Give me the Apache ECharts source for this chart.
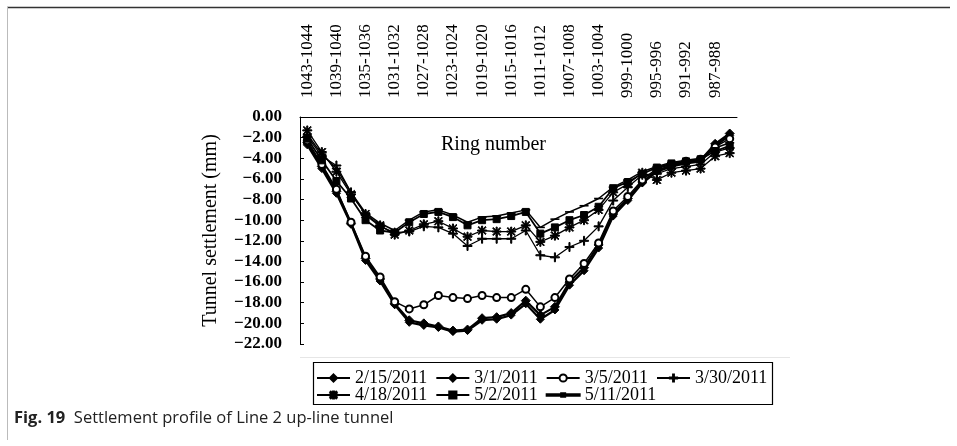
<!DOCTYPE html>
<html>
<head>
<meta charset="utf-8">
<script src="https://cdn.jsdelivr.net/npm/echarts@6/dist/echarts.min.js"></script>
<style>
  html, body { margin: 0; padding: 0; background: #fff; }
  #main { width: 957px; height: 446px; }
</style>
</head>
<body>
<div id="main"></div>
<script>
// ring pairs, every second one is labelled
var rings = ['1043-1044', '1041-1042', '1039-1040', '1037-1038', '1035-1036', '1033-1034',
  '1031-1032', '1029-1030', '1027-1028', '1025-1026', '1023-1024', '1021-1022',
  '1019-1020', '1017-1018', '1015-1016', '1013-1014', '1011-1012', '1009-1010',
  '1007-1008', '1005-1006', '1003-1004', '1001-1002', '999-1000', '997-998',
  '995-996', '993-994', '991-992', '989-990', '987-988', '985-986'];

// settlement (mm)
var d0215 = [-2.5, -4.8, -7.2, -10.3, -13.7, -15.7, -18.1, -19.7, -20.0, -20.3, -20.7, -20.6, -19.5, -19.4, -19.0,
  -17.8, -19.2, -18.4, -16.0, -14.6, -12.4, -9.4, -7.9, -6.3, -5.2, -4.7, -4.4, -4.2, -2.6, -1.6];
var d0301 = [-2.7, -5.0, -7.4, -10.4, -13.9, -15.9, -18.2, -19.9, -20.2, -20.4, -20.8, -20.7, -19.7, -19.6, -19.2,
  -18.1, -19.6, -18.7, -16.3, -14.9, -12.7, -9.6, -8.1, -6.4, -5.3, -4.8, -4.5, -4.3, -2.8, -1.8];
var d0305 = [-2.3, -4.6, -7.0, -10.2, -13.5, -15.5, -17.9, -18.6, -18.2, -17.3, -17.5, -17.6, -17.3, -17.5, -17.5,
  -16.7, -18.4, -17.5, -15.7, -14.2, -12.2, -9.1, -7.7, -6.1, -5.0, -4.6, -4.3, -4.1, -2.9, -2.1];
var d0330 = [-1.9, -3.8, -4.7, -7.3, -9.5, -10.6, -11.2, -11.1, -10.6, -10.7, -11.3, -12.5, -11.8, -11.8, -11.8,
  -11.0, -13.4, -13.6, -12.6, -12.0, -10.6, -8.1, -6.8, -5.6, -5.5, -5.0, -4.8, -4.6, -3.4, -3.0];
var d0418 = [-1.3, -3.4, -5.3, -7.5, -9.4, -10.5, -11.4, -11.0, -10.4, -10.1, -10.8, -11.6, -11.0, -11.1, -11.1,
  -10.5, -12.1, -11.5, -10.7, -10.0, -9.0, -7.3, -6.5, -5.4, -6.1, -5.4, -5.2, -5.0, -3.8, -3.5];
var d0502 = [-2.1, -4.2, -6.2, -7.9, -10.0, -11.0, -11.2, -10.2, -9.4, -9.2, -9.7, -10.5, -10.0, -9.9, -9.6,
  -9.2, -11.3, -10.7, -10.0, -9.5, -8.7, -6.9, -6.3, -5.5, -4.9, -4.5, -4.3, -4.1, -3.3, -2.8];
var d0511 = [-1.7, -3.6, -5.0, -7.3, -9.3, -10.3, -11.0, -10.0, -9.2, -9.0, -9.5, -10.2, -9.7, -9.6, -9.3,
  -9.0, -10.7, -9.9, -9.2, -8.6, -7.9, -6.8, -6.1, -5.3, -4.8, -4.4, -4.2, -4.0, -3.0, -2.5];

var names = ['2/15/2011', '3/1/2011', '3/5/2011', '3/30/2011', '4/18/2011', '5/2/2011', '5/11/2011'];

var serif = 'Liberation Serif';
var plusPath = 'path://M4.4,0h1.2v4.4h4.4v1.2h-4.4v4.4h-1.2v-4.4h-4.4v-1.2h4.4z';
var starPath = 'path://M4.4,0h1.2v4.4h4.4v1.2h-4.4v4.4h-1.2v-4.4h-4.4v-1.2h4.4z' +
  'M1.3,0.5L5,4.2L8.7,0.5L9.5,1.3L5.8,5L9.5,8.7L8.7,9.5L5,5.8L1.3,9.5L0.5,8.7L4.2,5L0.5,1.3z';
var dashPath = 'path://M0,0h10v3h-10z';
// legend icon for the plain line: line with a short dash in the middle
var dashLineIcon = 'path://M0,1h33v1.5h-33zM14.5,0h4v3.5h-4z';

function line(name, data, symbol, size, width) {
  return {
    name: name,
    type: 'line',
    data: data,
    symbol: symbol,
    symbolSize: size,
    symbolKeepAspect: true,
    lineStyle: { color: '#000', width: width },
    itemStyle: { color: '#000', borderColor: '#000', borderWidth: 1 },
    emphasis: { disabled: true },
    animation: false
  };
}

function fmt(v) {
  return (v < 0 ? '\u2212' : '') + Math.abs(v).toFixed(2);
}

var legendText = { fontFamily: serif, fontSize: 18, color: '#000' };

var myChart = echarts.init(document.getElementById('main'));
var option = {
  backgroundColor: '#fff',
  grid: { left: 300, top: 117, right: 220, bottom: 102 },
  xAxis: {
    type: 'category',
    position: 'top',
    data: rings,
    boundaryGap: true,
    axisLine: { lineStyle: { color: '#000', width: 1 } },
    axisTick: { inside: true, length: 4, interval: 0, lineStyle: { color: '#000' } },
    axisLabel: {
      interval: 1, rotate: 90, margin: 19,
      fontFamily: serif, fontSize: 17, color: '#000'
    },
    splitLine: { show: false }
  },
  yAxis: {
    type: 'value',
    min: -22, max: 0, interval: 2,
    name: 'Tunnel settlement (mm)',
    nameLocation: 'middle',
    nameGap: 79,
    nameRotate: 90,
    nameTextStyle: { fontFamily: serif, fontSize: 20, color: '#000' },
    axisLine: { show: true, lineStyle: { color: '#000', width: 1 } },
    axisTick: { show: true, inside: true, length: 4, lineStyle: { color: '#000' } },
    axisLabel: {
      margin: 18, formatter: fmt,
      fontFamily: serif, fontSize: 17, fontWeight: 'bold', color: '#000'
    },
    splitLine: { show: false }
  },
  legend: [
    {
      data: names.slice(0, 4),
      left: 316, top: 369, padding: 0, itemGap: 8,
      itemWidth: 33, itemHeight: 9,
      textStyle: legendText
    },
    {
      data: [names[4], names[5], { name: names[6], icon: dashLineIcon }],
      left: 316, top: 386, padding: 0, itemGap: 8,
      itemWidth: 33, itemHeight: 9,
      textStyle: legendText
    }
  ],
  title: {
    text: 'Ring number',
    left: 436, top: 130,
    textStyle: { fontFamily: serif, fontSize: 20, fontWeight: 'normal', color: '#000' }
  },
  graphic: [
    {
      type: 'line', shape: { x1: 7, y1: 7.5, x2: 950, y2: 7.5 },
      style: { stroke: '#333', lineWidth: 1.5 }, silent: true
    },
    {
      type: 'line', shape: { x1: 7.5, y1: 7, x2: 7.5, y2: 440 },
      style: { stroke: '#bbb', lineWidth: 1 }, silent: true
    },
    {
      type: 'line', shape: { x1: 300, y1: 357.5, x2: 790, y2: 357.5 },
      style: { stroke: '#e6e6e6', lineWidth: 1 }, silent: true
    },
    {
      type: 'rect', shape: { x: 313.5, y: 362.5, width: 459, height: 42 },
      style: { fill: 'none', stroke: '#000', lineWidth: 1.2 }, silent: true
    },
    {
      type: 'text', left: 14, top: 410, silent: true,
      style: {
        text: '{b|Fig. 19}  Settlement profile of Line 2 up-line tunnel',
        font: '16.5px "Open Sans"', fill: '#222',
        rich: { b: { fontFamily: 'Open Sans', fontSize: 16.5, fontWeight: 'bold', fill: '#222' } }
      }
    }
  ],
  series: [
    line(names[0], d0215, 'diamond', 9, 2.2),
    line(names[1], d0301, 'diamond', 8, 2.2),
    line(names[2], d0305, 'emptyCircle', 7, 1.5),
    line(names[3], d0330, plusPath, 9, 1.3),
    line(names[4], d0418, starPath, 9, 1.3),
    line(names[5], d0502, 'rect', 7, 1.8),
    line(names[6], d0511, dashPath, [6, 2], 1.5)
  ]
};
myChart.setOption(option);
</script>
</body>
</html>
